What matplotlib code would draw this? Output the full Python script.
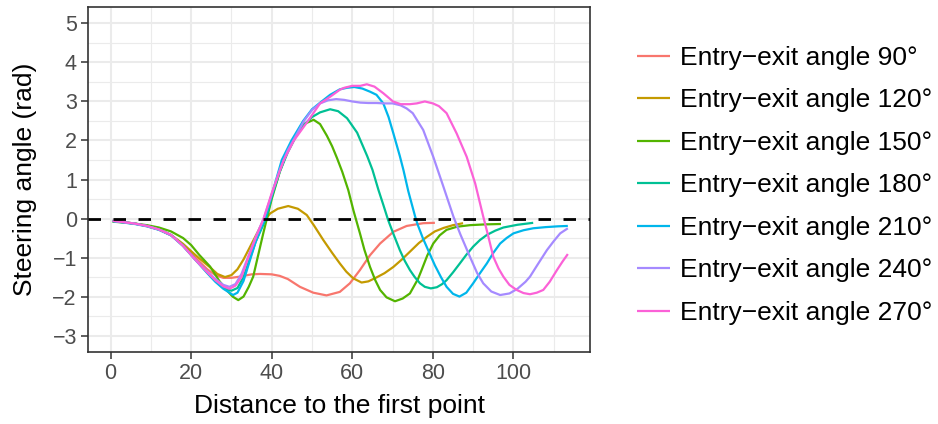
import matplotlib
matplotlib.use("Agg")
import matplotlib.pyplot as plt
from matplotlib.ticker import MultipleLocator

plt.rcParams['font.family'] = ['Liberation Sans', 'DejaVu Sans']

# ---- data ----
labels = ['Entry\u2212exit angle 90°', 'Entry\u2212exit angle 120°', 'Entry\u2212exit angle 150°',
          'Entry\u2212exit angle 180°', 'Entry\u2212exit angle 210°', 'Entry\u2212exit angle 240°',
          'Entry\u2212exit angle 270°']
colors = ['#F8766D', '#C49A00', '#53B400', '#00C094', '#00B6EB', '#A58AFF', '#FB61D7']

x90 = [0.5, 3, 6, 9, 12, 15, 18, 21, 24, 26, 28, 30, 32, 35, 37.1, 40, 42, 44, 47, 50.3,
       53.6, 56.9, 59.4, 61.9, 64.4, 66.9, 70.2, 73.5, 77.6, 80.5]
y90 = [-0.06, -0.09, -0.13, -0.19, -0.28, -0.43, -0.68, -1.0, -1.3, -1.45, -1.52, -1.52, -1.49, -1.43, -1.42, -1.43, -1.47, -1.55, -1.75, -1.9,
       -1.97, -1.88, -1.66, -1.32, -0.94, -0.64, -0.34, -0.19, -0.12, -0.11]

x120 = [0.5, 3, 6, 9, 12, 15, 18, 21, 22, 24.7, 26.5, 28.4, 30, 31.5, 33, 34.5, 36, 37.5, 39.6, 41.5,
        44.1, 46.5, 48.7, 50.5, 52.8, 55, 56.9, 58.5, 60.2, 62.3, 64, 66, 68, 70.2, 72.3, 74.3,
        76.5, 78.5, 80.5, 82.7, 85, 87.5]
y120 = [-0.07, -0.09, -0.13, -0.19, -0.28, -0.42, -0.65, -0.93, -1.02, -1.25, -1.42, -1.5, -1.45, -1.3, -1.05, -0.75, -0.45, -0.15, 0.13, 0.25,
        0.32, 0.25, 0.09, -0.18, -0.55, -0.88, -1.15, -1.36, -1.53, -1.64, -1.61, -1.51, -1.4, -1.24, -1.05, -0.85,
        -0.63, -0.47, -0.33, -0.24, -0.17, -0.12]

x150 = [0.5, 3, 6, 9, 12, 15, 18, 20, 22, 24.7, 27, 28.8, 30.3, 31.7, 33, 34.3, 35.4, 36.5, 37.9, 38.8,
        40, 42, 44, 46, 48, 50.4, 52, 53.7, 55, 56.2, 57.5, 59, 60.3, 61.9, 63, 64.4, 65.7,
        66.9, 68.5, 70.6, 72.5, 74.3, 76.3, 77.2, 78.6, 80.1, 81.7, 83.4, 86, 89.2, 93, 96.9]
y150 = [-0.08, -0.1, -0.13, -0.17, -0.23, -0.33, -0.5, -0.68, -0.93, -1.23, -1.6, -1.83, -2.0, -2.09, -2.0, -1.75, -1.49, -1.0, -0.38, 0.0,
        0.5, 1.2, 1.75, 2.15, 2.42, 2.53, 2.42, 2.12, 1.85, 1.55, 1.2, 0.73, 0.2, -0.38, -0.8, -1.24, -1.58,
        -1.83, -2.02, -2.12, -2.05, -1.92, -1.55, -1.32, -0.95, -0.64, -0.43, -0.29, -0.21, -0.17, -0.15, -0.14]

x180 = [0.5, 3, 6, 9, 12, 15, 18, 21, 24, 26, 28, 30, 31.5, 33, 34.5, 36, 38.6, 40, 42, 44,
        46, 48, 50, 52, 54.5, 56.5, 58.7, 61.2, 63.7, 65, 66.5, 67.7, 68.9, 70.3, 71.8, 73,
        74.3, 75.5, 76.8, 78, 79.5, 81, 82.3, 83.4, 85, 86.7, 88.3, 90, 91.7, 93.4, 95.5,
        97.5, 101, 104.9]
y180 = [-0.06, -0.09, -0.13, -0.19, -0.28, -0.42, -0.7, -1.05, -1.38, -1.6, -1.78, -1.85, -1.78, -1.5, -1.05, -0.6, 0.0, 0.55, 1.2, 1.7,
        2.1, 2.4, 2.6, 2.72, 2.8, 2.75, 2.57, 2.2, 1.6, 1.25, 0.73, 0.35, -0.04, -0.42, -0.81, -1.08,
        -1.32, -1.5, -1.66, -1.75, -1.79, -1.76, -1.68, -1.58, -1.38, -1.15, -0.93, -0.72, -0.55, -0.42, -0.31,
        -0.23, -0.16, -0.11]

x210 = [0.5, 3, 6, 9, 12, 15, 18, 21, 24, 26, 28, 30.4, 31.5, 33, 34.5, 36, 38.3, 40, 42.5, 44.9,
        47.8, 50, 52.4, 54.5, 56.9, 58.7, 60.5, 62.5, 64.4, 66, 67.7, 69, 70.2, 71.8, 72.7, 73.9,
        75.6, 76.2, 77.5, 79, 80.5, 82, 83.4, 85, 86.6, 88.3, 90, 91.7, 93.4, 95, 96.7,
        98.3, 100, 102.5, 104.9, 108, 111, 113.5]
y210 = [-0.07, -0.1, -0.14, -0.2, -0.29, -0.43, -0.7, -1.05, -1.4, -1.62, -1.8, -1.96, -1.9, -1.6, -1.1, -0.6, 0.0, 0.6, 1.5, 2.0,
        2.5, 2.8, 3.0, 3.17, 3.31, 3.35, 3.37, 3.33, 3.25, 3.17, 2.95, 2.6, 2.18, 1.6, 1.24, 0.7,
        0.05, -0.15, -0.5, -0.85, -1.2, -1.5, -1.75, -1.93, -2.0, -1.9, -1.66, -1.4, -1.15, -0.88, -0.64,
        -0.5, -0.38, -0.3, -0.25, -0.22, -0.2, -0.19]

x240 = [0.5, 3, 6, 9, 12, 15, 18, 21, 24, 26, 28, 29.5, 31, 32.5, 34, 36, 38, 40, 42, 44,
        46, 48, 50, 52, 54, 56, 58, 60, 62, 64, 66, 68, 70, 72, 73.5, 75, 77.6, 80.1,
        82.6, 85.1, 86.8, 89.2, 91, 92.5, 94.5, 96.7, 99, 101, 103, 104.1, 106, 108.3,
        110, 111.6, 113.5]
y240 = [-0.06, -0.09, -0.13, -0.19, -0.28, -0.42, -0.7, -1.05, -1.36, -1.55, -1.7, -1.75, -1.68, -1.42, -1.02, -0.48, 0.0, 0.62, 1.25, 1.75,
        2.12, 2.5, 2.78, 2.95, 3.03, 3.06, 3.04, 3.0, 2.97, 2.96, 2.96, 2.95, 2.95, 2.9, 2.82, 2.7, 2.27, 1.58,
        0.82, 0.05, -0.4, -0.98, -1.4, -1.66, -1.87, -1.96, -1.92, -1.8, -1.62, -1.49, -1.18, -0.81,
        -0.58, -0.38, -0.25]

x270 = [0.5, 3, 6, 9, 12, 15, 18, 21, 24, 26, 28, 29.5, 31, 32.5, 34, 36, 38, 40, 43, 45.5,
        49, 52, 54.5, 56.9, 58, 60, 62, 63.6, 65.5, 67.7, 70.1, 72, 74.3, 76, 78, 80, 81.5,
        83.4, 85.9, 88.4, 90.5, 92.5, 93.5, 95, 96.3, 97.5, 99, 100.8, 102.5, 104.1, 105.8,
        107.4, 109, 110.8, 112.2, 113.5]
y270 = [-0.06, -0.09, -0.13, -0.19, -0.28, -0.42, -0.7, -1.05, -1.38, -1.58, -1.74, -1.8, -1.72, -1.5, -1.05, -0.5, 0.0, 0.65, 1.5, 2.0,
        2.5, 2.95, 3.12, 3.3, 3.35, 3.4, 3.4, 3.44, 3.38, 3.21, 3.0, 2.93, 2.93, 2.95, 3.0, 2.95, 2.88,
        2.7, 2.18, 1.58, 0.9, 0.05, -0.35, -0.98, -1.28, -1.49, -1.7, -1.83, -1.91, -1.94, -1.9,
        -1.83, -1.62, -1.32, -1.1, -0.91]

xs = [x90, x120, x150, x180, x210, x240, x270]
ys = [y90, y120, y150, y180, y210, y240, y270]

# ---- figure ----
W, H = 938, 424
fig = plt.figure(figsize=(W / 100, H / 100), dpi=100)
ax = fig.add_axes([88 / W, (H - 352) / H, (590 - 88) / W, (352 - 7) / H])

for xv, yv, c, lab in zip(xs, ys, colors, labels):
    ax.plot(xv, yv, color=c, lw=1.6, label=lab, solid_capstyle='butt')

ax.axhline(0, color='black', lw=2.0, ls=(0, (4.5, 4.5)), zorder=5)

ax.set_xlim(-5.6, 119.0)
ax.set_ylim(-3.42, 5.42)
ax.xaxis.set_major_locator(MultipleLocator(20))
ax.xaxis.set_minor_locator(MultipleLocator(10))
ax.yaxis.set_major_locator(MultipleLocator(1))
ax.yaxis.set_minor_locator(MultipleLocator(0.5))

ax.grid(which='major', color='#EBEBEB', lw=1.5)
ax.grid(which='minor', color='#EBEBEB', lw=0.8)
ax.set_axisbelow(True)
for s in ax.spines.values():
    s.set_color('#333333')
    s.set_linewidth(1.2)
ax.tick_params(which='major', length=5, width=1.1, color='#333333',
               labelcolor='#4D4D4D', labelsize=15.5, pad=3)
ax.tick_params(which='minor', length=0)

ax.set_xlabel('Distance to the first point', fontsize=19, labelpad=7)
ax.set_ylabel('Steering angle (rad)', fontsize=19, labelpad=11)

ax.legend(loc='upper left', bbox_to_anchor=(637 / W, 1 - 46 / H),
          bbox_transform=fig.transFigure, frameon=False, fontsize=19,
          handlelength=1.25, handletextpad=0.38, labelspacing=0.70,
          borderaxespad=0, borderpad=0)

fig.savefig('out.png', dpi=100)
